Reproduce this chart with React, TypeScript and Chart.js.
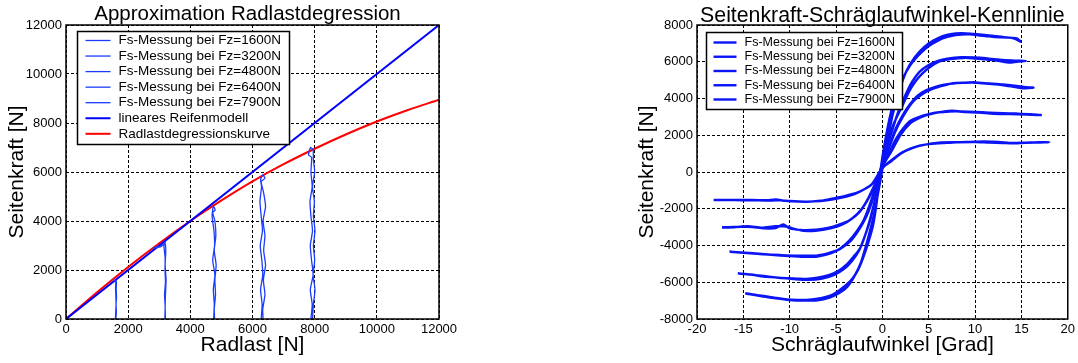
import React, { useEffect, useRef } from "react";
import { Chart, registerables } from "chart.js";
Chart.register(...registerables);

const FONT = '"Liberation Sans", Arial, Helvetica, sans-serif';

// ---------- Left chart: Approximation Radlastdegression ----------
const leftTitle = "Approximation Radlastdegression";
const leftXTitle = "Radlast [N]";
const leftYTitle = "Seitenkraft [N]";

const linearX = [0, 12000];
const linearY = [0, 12000];

const degrX = [0, 1000, 2000, 3000, 4000, 5000, 6000, 7000, 8000, 9000, 10000, 11000, 12000];
const degrY = [0, 1090, 2120, 3090, 4000, 4840, 5620, 6320, 6950, 7530, 8060, 8530, 8950];

const m1600X = [1590, 1600, 1610, 1605, 1595, 1600, 1580, 1570, 1600, 1620, 1615, 1625, 1610, 1620, 1605];
const m1600Y = [0, 300, 600, 900, 1200, 1500, 1600, 1560, 1580, 1550, 1200, 900, 600, 300, 0];

const m3200X = [3180, 3190, 3170, 3200, 3185, 3190, 3150, 3200, 3100, 2800, 3050, 3180, 3210, 3190, 3220, 3200, 3190, 3200];
const m3200Y = [0, 500, 1000, 1500, 2000, 2500, 3000, 3150, 3000, 2900, 2950, 3100, 2800, 2200, 1600, 1000, 500, 0];

const m4800X = [4750, 4770, 4740, 4790, 4720, 4780, 4760, 4700, 4740, 4800, 4720, 4790, 4820, 4770, 4830, 4790, 4810, 4770, 4780];
const m4800Y = [0, 600, 1200, 1800, 2400, 3000, 3600, 4200, 4600, 4450, 4350, 4000, 3400, 2800, 2200, 1600, 1000, 400, 0];

const m6400X = [6280, 6310, 6260, 6330, 6300, 6250, 6320, 6280, 6240, 6290, 6260, 6330, 6400, 6280, 6350, 6420, 6340, 6400, 6360, 6420, 6350, 6400, 6330, 6340];
const m6400Y = [0, 600, 1200, 1800, 2400, 3000, 3600, 4200, 4800, 5400, 5700, 5880, 5750, 5600, 5200, 4600, 4000, 3400, 2800, 2200, 1600, 1000, 400, 0];

const m7900X = [7880, 7920, 7860, 7950, 7900, 7860, 7930, 7880, 7850, 7920, 7880, 7900, 7800, 7870, 7950, 7960, 8000, 7930, 7990, 7960, 8010, 7960, 8000, 7950, 8010, 7960, 7930];
const m7900Y = [0, 600, 1200, 1800, 2400, 3000, 3600, 4200, 4800, 5400, 6000, 6600, 6700, 7000, 6900, 6500, 6000, 5400, 4800, 4200, 3600, 3000, 2400, 1800, 1200, 600, 0];

// ---------- Right chart: Seitenkraft-Schräglaufwinkel-Kennlinie ----------
const rightTitle = "Seitenkraft-Schräglaufwinkel-Kennlinie";
const rightXTitle = "Schräglaufwinkel [Grad]";
const rightYTitle = "Seitenkraft [N]";

const k1600A = [-18.2, -16, -14, -12, -11, -10, -8.2, -6.5, -5.3, -4, -2.8, -1.8, -1, -0.2, 0.5, 1.5, 2.2, 3.3, 4.5, 6.1, 8, 10, 11.5, 13, 14, 15.5, 17, 18,
  17, 15.5, 14, 12.5, 11, 9.5, 8, 6.5, 5, 4, 3, 2, 1, 0, -0.6, -1.2, -2, -3, -4.5, -6, -7.5, -9, -10.5, -11.5, -12.5, -14, -16, -18.2];
const k1600F = [-1530, -1520, -1540, -1560, -1530, -1580, -1615, -1560, -1440, -1300, -1140, -900, -600, 100, 450, 850, 1080, 1320, 1480, 1600, 1620, 1630, 1600, 1580, 1560, 1590, 1600, 1615,
  1620, 1600, 1580, 1640, 1660, 1640, 1620, 1570, 1520, 1440, 1270, 1000, 600, 220, -250, -700, -950, -1200, -1400, -1540, -1600, -1610, -1570, -1500, -1540, -1520, -1530, -1520];

const k3200A = [-17.3, -16, -15.2, -14, -12.8, -11.5, -10.7, -10, -8.8, -7.8, -6.5, -5.3, -4.3, -3.5, -2.5, -1.7, -1, -0.2, 0.5, 1.5, 2.9, 4, 5, 6.1, 7, 8, 9, 10.4, 12, 13.7, 15.5, 17.1,
  16, 14.5, 13, 11.5, 10, 8.5, 7.5, 6.2, 5, 4, 3, 2, 1, 0, -0.7, -1.5, -2.3, -3.2, -4.3, -5.5, -7, -8.5, -9.5, -10.2, -11.5, -13, -14.5, -16, -17.3];
const k3200F = [-3010, -2990, -2975, -3000, -3065, -3050, -2850, -3065, -3150, -3160, -3100, -2975, -2800, -2610, -2200, -1615, -950, 100, 800, 1830, 2740, 3000, 3150, 3250, 3280, 3300, 3260, 3230, 3170, 3155, 3130, 3100,
  3150, 3180, 3200, 3230, 3270, 3300, 3330, 3260, 3120, 2950, 2650, 2050, 1150, 300, -550, -1400, -2050, -2500, -2850, -3050, -3180, -3200, -3100, -2980, -2950, -3030, -2950, -3010, -3020];

const k4800A = [-16.5, -15, -13.5, -12.8, -11, -9.2, -7.1, -6, -5.3, -4.6, -3.5, -2.8, -2.1, -1.5, -1, -0.2, 0.5, 1.3, 2.2, 3.3, 4.5, 5.4, 6.1, 7.6, 9, 10.1, 11.5, 12.9, 14, 15.1, 16.3,
  15.5, 14.5, 13, 11.5, 10, 8.5, 7, 5.8, 4.7, 3.8, 3, 2.2, 1.3, 0.4, -0.5, -1.2, -2, -2.8, -3.6, -4.5, -5.5, -7, -8.5, -10, -12, -14, -16.5];
const k4800F = [-4335, -4400, -4450, -4480, -4520, -4550, -4550, -4450, -4335, -4200, -3790, -3350, -2790, -2150, -1430, 100, 1000, 2100, 3000, 3830, 4300, 4520, 4640, 4830, 4860, 4860, 4800, 4735, 4650, 4555, 4590,
  4620, 4680, 4760, 4820, 4880, 4850, 4780, 4650, 4450, 4150, 3700, 3100, 2200, 850, -400, -1550, -2600, -3250, -3750, -4150, -4420, -4600, -4620, -4580, -4500, -4420, -4340];

const k6400A = [-15.6, -14, -12.8, -11.5, -10.3, -9.2, -8.2, -7, -5.7, -4.6, -3.9, -3.1, -2.4, -1.9, -1.4, -0.8, -0.2, 0.5, 1.2, 2.2, 2.9, 3.6, 4.3, 5.1, 6.1, 7, 8, 9, 10, 11.1, 12.5, 13.7, 14.5, 15.5,
  14.5, 13, 11.5, 10, 8.5, 7, 6, 5, 4, 3.2, 2.5, 1.7, 0.9, 0, -0.6, -1.2, -1.8, -2.5, -3.3, -4.2, -5.2, -6.5, -8, -9.5, -11, -12.8, -14.2, -15.6];
const k6400F = [-5515, -5600, -5660, -5740, -5785, -5800, -5820, -5750, -5605, -5330, -5060, -4600, -4150, -3500, -2700, -1500, 100, 1500, 2600, 3650, 4400, 4950, 5350, 5700, 6000, 6120, 6180, 6220, 6180, 6130, 6050, 5950, 6000, 6040,
  6060, 6100, 6170, 6230, 6250, 6170, 6050, 5820, 5450, 4900, 4200, 3250, 2000, 400, -1000, -2400, -3350, -4250, -4850, -5300, -5600, -5800, -5870, -5830, -5760, -5690, -5580, -5520];

const k7900A = [-14.8, -13.8, -12.8, -11.5, -10.3, -9.2, -8.2, -7, -6, -5.3, -4.6, -3.9, -3.2, -2.6, -2.1, -1.5, -1, -0.6, -0.2, 0.3, 0.9, 1.5, 2.2, 3, 3.8, 4.9, 6.1, 7, 7.9, 9.4, 10.5, 11.1, 12.2, 12.9, 14, 14.5, 14.9,
  14.3, 13.5, 12.5, 11.5, 10.5, 9.5, 8.5, 7.5, 6.5, 5.5, 4.5, 3.5, 2.6, 1.8, 1.1, 0.4, -0.3, -0.9, -1.6, -2.3, -3, -3.8, -4.7, -5.7, -7, -8.5, -10, -11.5, -13, -14.8];
const k7900F = [-6600, -6680, -6750, -6850, -6930, -6960, -6965, -6900, -6785, -6650, -6420, -6150, -5785, -5300, -4700, -3800, -2885, -1600, 100, 1700, 3200, 4300, 5100, 5800, 6300, 6820, 7180, 7350, 7455, 7490, 7430, 7400, 7340, 7330, 7300, 7275, 7090,
  7250, 7320, 7380, 7430, 7480, 7530, 7550, 7520, 7400, 7150, 6800, 6250, 5500, 4400, 3100, 1300, -700, -2300, -3700, -4900, -5650, -6250, -6600, -6830, -6980, -7000, -6970, -6880, -6760, -6610];

const seriesLabels = [
  "Fs-Messung bei Fz=1600N",
  "Fs-Messung bei Fz=3200N",
  "Fs-Messung bei Fz=4800N",
  "Fs-Messung bei Fz=6400N",
  "Fs-Messung bei Fz=7900N",
];

const zip = (xs: number[], ys: number[]) => xs.map((x, i) => ({ x, y: ys[i] }));

const frameAndTitle = {
  id: "frameAndTitle",
  afterDraw(chart: any, _args: any, opts: any) {
    const { ctx, chartArea } = chart;
    ctx.save();
    ctx.strokeStyle = "#000";
    ctx.lineWidth = 1.5;
    ctx.strokeRect(chartArea.left, chartArea.top, chartArea.right - chartArea.left, chartArea.bottom - chartArea.top);
    ctx.fillStyle = "#000";
    ctx.font = `${opts.size}px ${FONT}`;
    ctx.textAlign = "center";
    ctx.textBaseline = "alphabetic";
    ctx.fillText(opts.text, (chartArea.left + chartArea.right) / 2 + opts.dx, opts.y);
    ctx.restore();
  },
};

const boxLegend = {
  id: "boxLegend",
  afterDraw(chart: any, _args: any, opts: any) {
    const { ctx, chartArea } = chart;
    const items = chart.data.datasets.map((ds: any) => ({
      label: ds.label,
      color: ds.borderColor,
      width: ds.borderWidth,
    }));
    ctx.save();
    ctx.font = `${opts.fontSize}px ${FONT}`;
    const maxW = Math.max(...items.map((it: any) => ctx.measureText(it.label).width));
    const x0 = Math.round(chartArea.left + opts.dx) + 0.5;
    const y0 = Math.round(chartArea.top + opts.dy) + 0.5;
    const w = Math.round(opts.textX + maxW + opts.padRight);
    ctx.fillStyle = "#fff";
    ctx.fillRect(x0, y0, w, opts.h);
    ctx.strokeStyle = "#000";
    ctx.lineWidth = 1.5;
    ctx.strokeRect(x0, y0, w, opts.h);
    items.forEach((it: any, i: number) => {
      const cy = y0 + opts.first + opts.row * i;
      ctx.strokeStyle = it.color;
      ctx.lineWidth = it.width;
      ctx.beginPath();
      ctx.moveTo(x0 + opts.lineX0, cy);
      ctx.lineTo(x0 + opts.lineX1, cy);
      ctx.stroke();
      ctx.fillStyle = "#000";
      ctx.textAlign = "left";
      ctx.textBaseline = "middle";
      ctx.fillText(it.label, x0 + opts.textX, cy);
    });
    ctx.restore();
  },
};

function axis(min: number, max: number, step: number, title: string, fixed: { width?: number; height?: number }, horizontal: boolean) {
  return {
    type: "linear",
    min,
    max,
    grid: { color: "#000", lineWidth: 1, drawTicks: false },
    border: { display: false, dash: [3, 2] },
    ticks: {
      stepSize: step,
      autoSkip: false,
      maxRotation: 0,
      padding: horizontal ? 3 : 4,
      color: "#000",
      font: { family: FONT, size: 13 },
      callback: (v: any) => String(v),
    },
    title: {
      display: true,
      text: title,
      color: "#000",
      font: { family: FONT, size: 21 },
      padding: horizontal ? { top: 0, bottom: 5 } : { top: 5, bottom: 0 },
    },
    afterFit: (scale: any) => {
      if (fixed.width !== undefined) scale.width = fixed.width;
      if (fixed.height !== undefined) scale.height = fixed.height;
    },
  };
}

function LeftChart() {
  const ref = useRef<HTMLCanvasElement>(null);
  useEffect(() => {
    const measX = [m1600X, m3200X, m4800X, m6400X, m7900X];
    const measY = [m1600Y, m3200Y, m4800Y, m6400Y, m7900Y];
    const datasets: any[] = seriesLabels.map((label, i) => ({
      label,
      data: zip(measX[i], measY[i]),
      borderColor: "#1a3cff",
      borderWidth: 1.3,
      pointRadius: 0,
      tension: 0.2,
    }));
    datasets.push({
      label: "lineares Reifenmodell",
      data: zip(linearX, linearY),
      borderColor: "#0000ff",
      borderWidth: 2,
      pointRadius: 0,
    });
    datasets.push({
      label: "Radlastdegressionskurve",
      data: zip(degrX, degrY),
      borderColor: "#ff0000",
      borderWidth: 2,
      pointRadius: 0,
      cubicInterpolationMode: "monotone",
    });
    const chart = new Chart(ref.current!, {
      type: "line",
      data: { datasets },
      options: {
        animation: false,
        responsive: false,
        layout: { padding: { top: 25, left: 0, right: 61, bottom: 0 } },
        plugins: {
          legend: { display: false },
          tooltip: { enabled: false },
          frameAndTitle: { text: leftTitle, size: 20.5, dx: -5, y: 20 },
          boxLegend: { dx: 11, dy: 6, h: 113, first: 9, row: 15.55, lineX0: 8, lineX1: 33, textX: 41, padRight: 9, fontSize: 13.5 },
        } as any,
        scales: {
          x: axis(0, 12000, 2000, leftXTitle, { height: 44 }, true) as any,
          y: axis(0, 12000, 2000, leftYTitle, { width: 66 }, false) as any,
        },
      },
      plugins: [frameAndTitle, boxLegend],
    });
    return () => chart.destroy();
  }, []);
  return <canvas ref={ref} width={500} height={363} style={{ position: "absolute", left: 0, top: 0 }} />;
}

function RightChart() {
  const ref = useRef<HTMLCanvasElement>(null);
  useEffect(() => {
    const angles = [k1600A, k3200A, k4800A, k6400A, k7900A];
    const forces = [k1600F, k3200F, k4800F, k6400F, k7900F];
    const datasets: any[] = seriesLabels.map((label, i) => ({
      label,
      data: zip(angles[i], forces[i]),
      borderColor: "#0a14f5",
      borderWidth: 2.4,
      pointRadius: 0,
      tension: 0.25,
    }));
    const chart = new Chart(ref.current!, {
      type: "line",
      data: { datasets },
      options: {
        animation: false,
        responsive: false,
        layout: { padding: { top: 25, left: 30, right: 9, bottom: 0 } },
        plugins: {
          legend: { display: false },
          tooltip: { enabled: false },
          frameAndTitle: { text: rightTitle, size: 21.3, dx: 0, y: 21.5 },
          boxLegend: { dx: 9, dy: 7, h: 77, first: 10, row: 14.25, lineX0: 7, lineX1: 30, textX: 38, padRight: 8, fontSize: 12.5 },
        } as any,
        scales: {
          x: axis(-20, 20, 5, rightXTitle, { height: 44 }, true) as any,
          y: axis(-8000, 8000, 2000, rightYTitle, { width: 67 }, false) as any,
        },
      },
      plugins: [frameAndTitle, boxLegend],
    });
    return () => chart.destroy();
  }, []);
  return <canvas ref={ref} width={478} height={363} style={{ position: "absolute", left: 600, top: 0 }} />;
}

export default function App() {
  return (
    <div style={{ position: "absolute", left: 0, top: 0, width: 1078, height: 363, background: "#fff", overflow: "hidden" }}>
      <LeftChart />
      <RightChart />
    </div>
  );
}
